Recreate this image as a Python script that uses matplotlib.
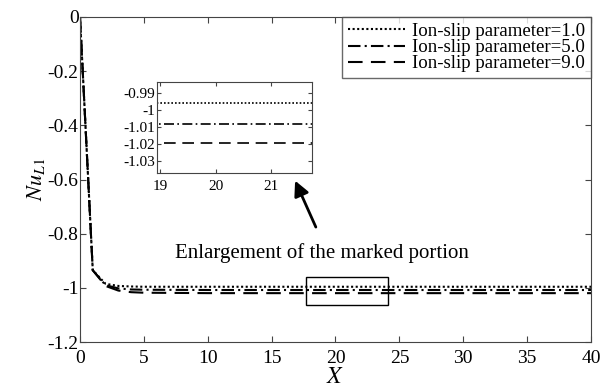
import numpy as np
import matplotlib
matplotlib.use('Agg')
import matplotlib.pyplot as plt
from matplotlib.patches import Rectangle

plt.rcParams['font.family'] = ['Liberation Serif', 'DejaVu Serif']
plt.rcParams['mathtext.fontset'] = 'stix'

# Data
x = [0, 1, 2, 3, 4, 5, 10, 15, 20, 25, 30, 35, 40]
nu_1 = [0, -0.935, -0.985, -0.993, -0.995, -0.996, -0.996, -0.996, -0.996, -0.996, -0.996, -0.996, -0.996]
nu_5 = [0, -0.935, -0.990, -1.002, -1.006, -1.007, -1.008, -1.008, -1.008, -1.008, -1.008, -1.008, -1.008]
nu_9 = [0, -0.935, -0.993, -1.010, -1.016, -1.018, -1.0195, -1.0196, -1.0196, -1.0196, -1.0196, -1.0196, -1.0196]
labels = ['Ion-slip parameter=1.0', 'Ion-slip parameter=5.0', 'Ion-slip parameter=9.0']
styles = [(0, (1, 1.2)), (0, (6, 2, 1, 2)), (0, (7, 4))]

xticks = [0, 5, 10, 15, 20, 25, 30, 35, 40]
yticks = [0, -0.2, -0.4, -0.6, -0.8, -1, -1.2]
ytick_labels = ['0', '-0.2', '-0.4', '-0.6', '-0.8', '-1', '-1.2']
inset_xticks = [19, 20, 21]
inset_yticks = [-0.99, -1, -1.01, -1.02, -1.03]
inset_ytick_labels = ['-0.99', '-1', '-1.01', '-1.02', '-1.03']

frame_col = '#444444'

fig = plt.figure(figsize=(6.12, 3.89), dpi=100)
ax = fig.add_axes([0.1307, 0.1208, 0.835, 0.8355])

for y, lab, ls in zip([nu_1, nu_5, nu_9], labels, styles):
    ax.plot(x, y, color='black', linestyle=ls, linewidth=1.5, label=lab)

ax.set_xlim(0, 40)
ax.set_ylim(-1.2, 0)
ax.set_xticks(xticks)
ax.set_yticks(yticks)
ax.set_yticklabels(ytick_labels)
ax.tick_params(direction='in', top=True, right=True, labelsize=14, length=4,
               color=frame_col, pad=1)
ax.tick_params(axis='x', pad=6)
for s in ax.spines.values():
    s.set_color(frame_col)
ax.set_xlabel('$X$', fontsize=17, labelpad=0)
ax.set_ylabel('$Nu_{L1}$', fontsize=16, labelpad=0)

leg = ax.legend(loc='upper right', fontsize=13.6, frameon=True, fancybox=False,
                borderaxespad=0, handlelength=3.0, labelspacing=-0.05,
                handletextpad=0.4, borderpad=0.3)
leg.get_frame().set_edgecolor(frame_col)
leg.get_frame().set_linewidth(1.0)

# marked portion
ax.add_patch(Rectangle((17.7, -1.064), 6.43, 0.103, fill=False,
                       edgecolor='black', linewidth=1.0))
ax.text(18.9, -0.89, 'Enlargement of the marked portion', fontsize=15,
        ha='center', va='baseline')
ax.annotate('', xy=(16.75, -0.595), xytext=(18.55, -0.785),
            arrowprops=dict(arrowstyle='-|>,head_length=0.9,head_width=0.45',
                            color='black', lw=2))

# inset
axin = fig.add_axes([0.2565, 0.5553, 0.2533, 0.2339])
for y, ls in zip([nu_1, nu_5, nu_9], styles):
    axin.plot(x, y, color='black', linestyle=ls, linewidth=1.2)
axin.set_xlim(18.94, 21.73)
axin.set_ylim(-1.0371, -0.9833)
axin.set_xticks(inset_xticks)
axin.set_yticks(inset_yticks)
axin.set_yticklabels(inset_ytick_labels)
axin.tick_params(direction='in', top=True, right=True, labelsize=11, length=3,
                 color=frame_col, pad=1)
axin.tick_params(axis='x', pad=5)
for s in axin.spines.values():
    s.set_color(frame_col)

fig.savefig('out.png', dpi=100)
